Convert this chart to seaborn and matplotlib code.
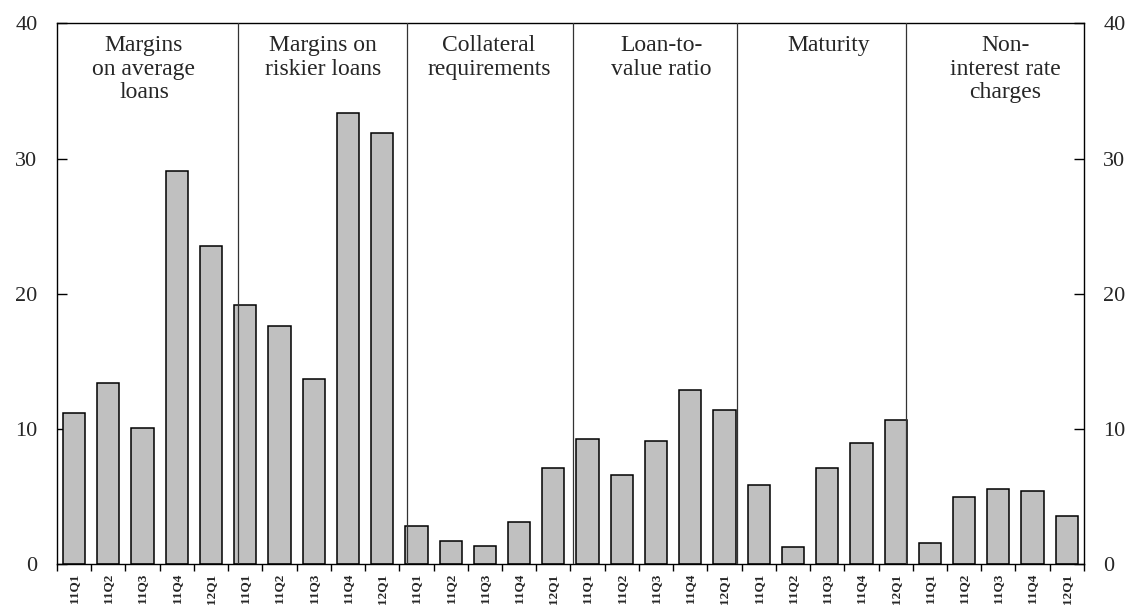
import numpy as np
import pandas as pd
import matplotlib
matplotlib.use('Agg')
import matplotlib.pyplot as plt
import seaborn as sns

# data
groups = ['Margins\non average\nloans', 'Margins on\nriskier loans', 'Collateral\nrequirements',
          'Loan-to-\nvalue ratio', 'Maturity', 'Non-\ninterest rate\ncharges']
quarters = ['11Q1', '11Q2', '11Q3', '11Q4', '12Q1']
margins_avg = [11.2, 13.4, 10.1, 29.1, 23.5]
margins_risky = [19.2, 17.6, 13.7, 33.4, 31.9]
collateral = [2.8, 1.7, 1.35, 3.1, 7.1]
loan_to_value = [9.3, 6.6, 9.1, 12.9, 11.4]
maturity = [5.9, 1.3, 7.1, 9.0, 10.7]
non_interest = [1.55, 4.95, 5.55, 5.4, 3.6]
# separator lines and heading centres, in bar-index units (as drawn in the original)
separators = [4.79, 9.72, 14.58, 19.36, 24.30]
heading_x = [2.04, 7.27, 12.12, 17.15, 22.05, 27.2]

series = [margins_avg, margins_risky, collateral, loan_to_value, maturity, non_interest]
rows = []
for g, vals in enumerate(series):
    for q, v in zip(quarters, vals):
        rows.append({'key': f'{g}_{q}', 'quarter': q, 'value': v})
df = pd.DataFrame(rows)

sns.set_style('ticks')
plt.rcParams['font.family'] = ['Liberation Serif', 'DejaVu Serif']

fig = plt.figure(figsize=(11.35, 6.07), dpi=100)
ax = fig.add_axes([0.0502, 0.0703, 0.9048, 0.8913])

sns.barplot(data=df, x='key', y='value', order=list(df['key']), color='#C0C0C0',
            saturation=1, edgecolor='black', linewidth=1.1, width=0.65, ax=ax)

ax.set_xlim(-0.5, len(df) - 0.5)
ax.set_ylim(0, 40)
ax.set_yticks([0, 10, 20, 30, 40])
ax.set_xlabel('')
ax.set_ylabel('')

ax.set_xticks(np.arange(len(df)))
ax.set_xticklabels(df['quarter'], rotation=90, fontweight='bold', fontsize=9.5)
ax.set_xticks(np.arange(-0.5, len(df), 1), minor=True)
ax.tick_params(axis='x', which='major', length=0, pad=7)
ax.tick_params(axis='x', which='minor', length=5, width=1, direction='out', color='black')
ax.tick_params(axis='y', which='major', left=True, right=True, labelleft=True, labelright=True,
               direction='in', length=7, width=1, labelsize=16, pad=14, color='black')

for s in ax.spines.values():
    s.set_visible(True)
    s.set_color('black')
    s.set_linewidth(1)

for x in separators:
    ax.axvline(x, color='#333333', linewidth=0.9, zorder=3)

for x, name in zip(heading_x, groups):
    ax.text(x, 39.1, name, ha='center', va='top', fontsize=17, linespacing=1.15)

fig.savefig('out.png', dpi=100)
